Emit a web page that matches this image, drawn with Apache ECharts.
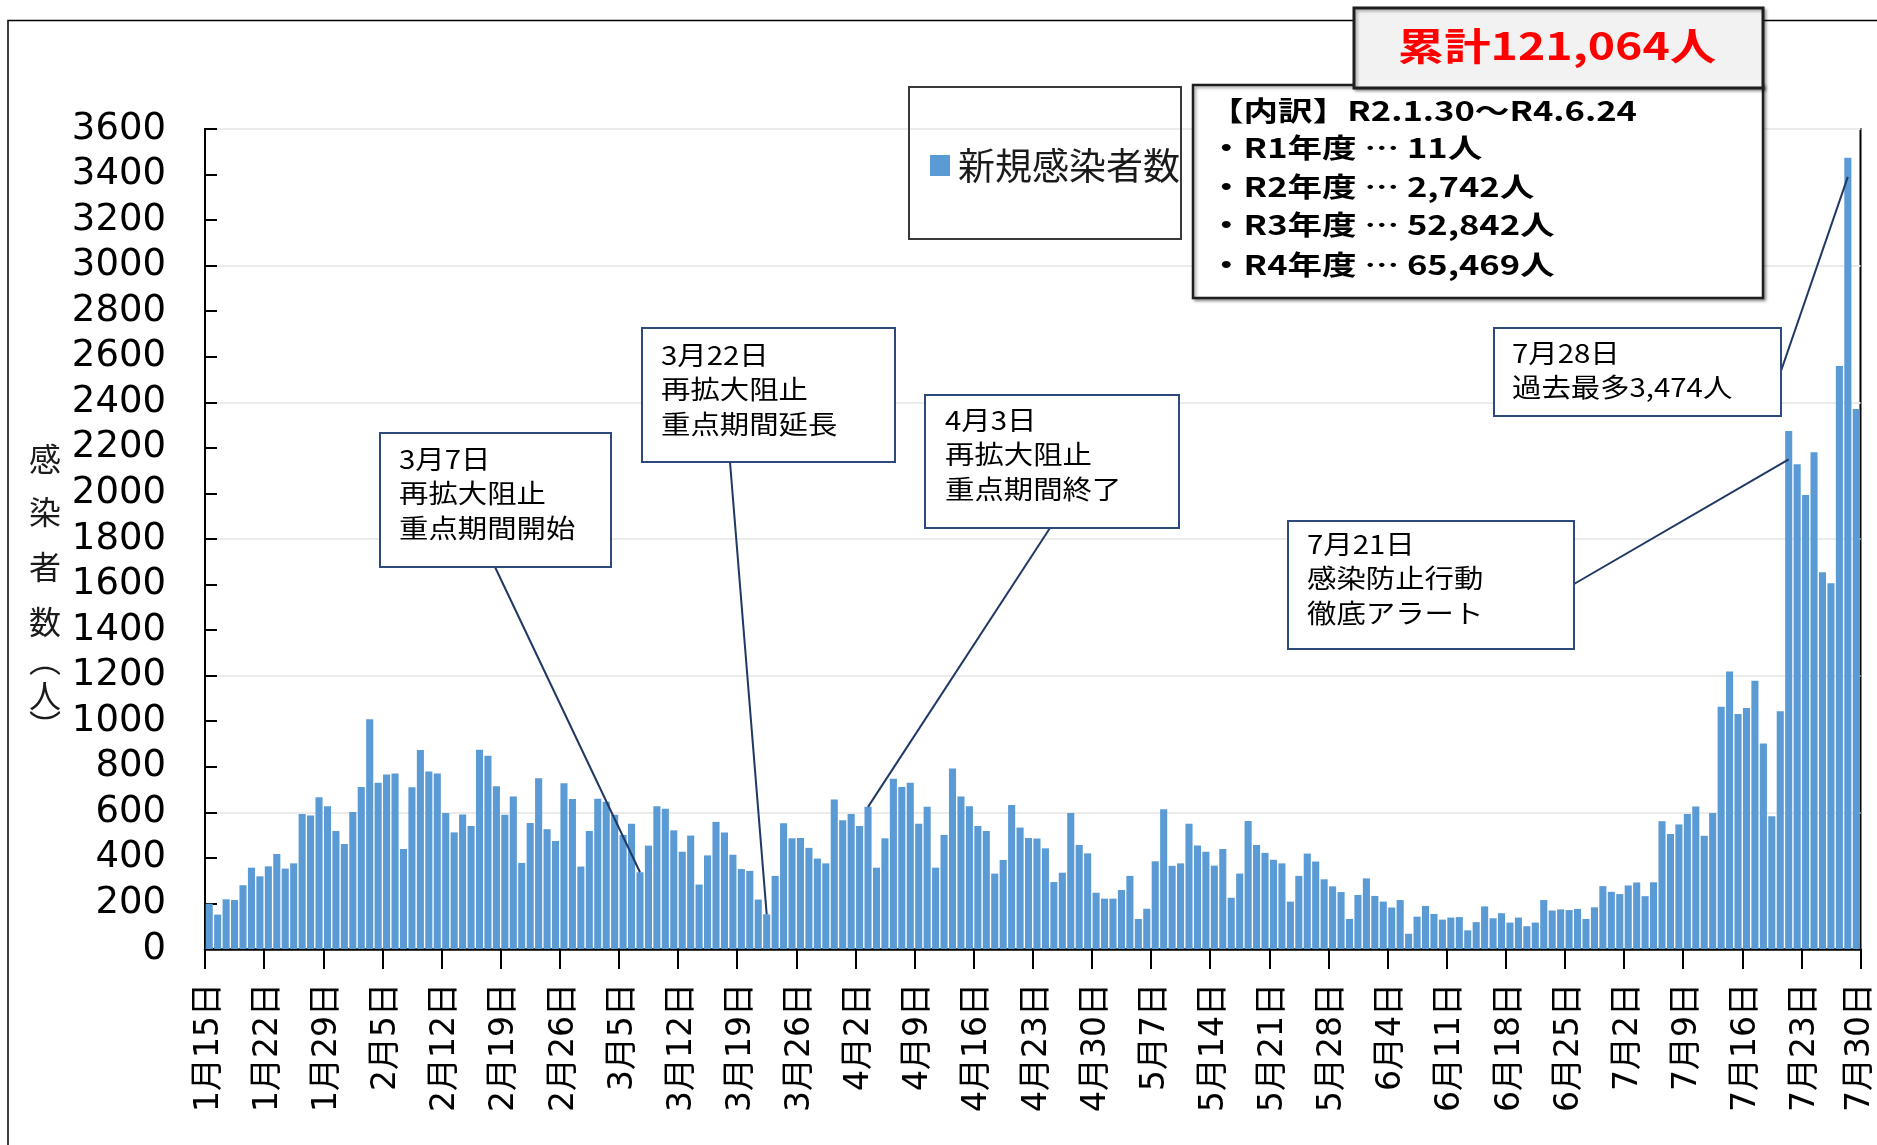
<!DOCTYPE html>
<html>
<head>
<meta charset="utf-8">
<title>新規感染者数</title>
<script src="https://cdn.jsdelivr.net/npm/echarts/dist/echarts.min.js"></script>
<style>
	html, body { margin: 0; padding: 0; background: #fff; }
	#main { width: 1877px; height: 1145px; }
</style>
</head>
<body>
<div id="main"></div>
<script>
	// 1月15日からの日別新規感染者数（週ごとに7件）
	const dailyCases = [
		199, 151, 218, 215, 280, 357, 319,        // 1/15-
		363, 417, 353, 376, 593, 586, 666,        // 1/22-
		627, 518, 461, 602, 711, 1009, 730,       // 1/29-
		766, 770, 439, 710, 874, 779, 770,        // 2/5-
		597, 512, 590, 540, 875, 848, 714,        // 2/12-
		589, 669, 378, 553, 750, 526, 474,        // 2/19-
		728, 659, 362, 518, 660, 646, 589,        // 2/26-
		501, 550, 337, 454, 627, 616, 521,        // 3/5-
		427, 498, 283, 411, 558, 511, 414,        // 3/12-
		351, 343, 217, 152, 321, 552, 486,        // 3/19-
		487, 444, 397, 376, 656, 565, 593,        // 3/26-
		540, 624, 357, 486, 747, 711, 730,        // 4/2-
		550, 625, 357, 501, 792, 670, 627,        // 4/9-
		540, 518, 331, 391, 632, 533, 487,        // 4/16-
		485, 442, 294, 335, 597, 457, 420,        // 4/23-
		247, 221, 221, 259, 321, 132, 177,        // 4/30-
		385, 613, 365, 376, 550, 454, 427,        // 5/7-
		366, 439, 225, 331, 562, 457, 422,        // 5/14-
		392, 376, 208, 321, 419, 384, 306,        // 5/21-
		275, 250, 132, 237, 310, 233, 208,        // 5/28-
		182, 215, 67, 142, 189, 154, 129,         // 6/4-
		138, 140, 82, 118, 187, 135, 157,         // 6/11-
		116, 138, 100, 116, 215, 169, 174,        // 6/18-
		171, 176, 132, 183, 276, 251, 241,        // 6/25-
		279, 292, 232, 293, 561, 505, 547,        // 7/2-
		593, 626, 497, 597, 1063, 1218, 1032,     // 7/9-
		1058, 1178, 902, 583, 1044, 2274, 2128,   // 7/16-
		1993, 2181, 1654, 1606, 2560, 3474, 2371  // 7/23-
	];

	// 日付ラベル（1月15日〜）
	const days = [];
	const start = new Date(2022, 0, 15);
	for (let i = 0; i <= dailyCases.length; i++) {
		const d = new Date(start.getTime());
		d.setDate(start.getDate() + i);
		days.push((d.getMonth() + 1) + '月' + d.getDate() + '日');
	}
	const barDays = days.slice(0, dailyCases.length);

	const totalText = '累計121,064人';
	const breakdown = [
		'【内訳】R2.1.30～R4.6.24',
		'・R1年度 … 11人',
		'・R2年度 … 2,742人',
		'・R3年度 … 52,842人',
		'・R4年度 … 65,469人'
	];
	const yName = ['感', '染', '者', '数', '︵', '人', '︶'];

	// 吹き出し（rect: x, y, w, h / anchor: 指す日・値）
	const notes = [
		{ lines: ['3月7日', '再拡大阻止', '重点期間開始'], rect: [380, 433, 231, 134], textAt: [399, 459], from: [495, 567], day: '3月7日', value: null },
		{ lines: ['3月22日', '再拡大阻止', '重点期間延長'], rect: [642, 328, 253, 134], textAt: [661, 355], from: [730, 462], day: '3月22日', value: null },
		{ lines: ['4月3日', '再拡大阻止', '重点期間終了'], rect: [925, 395, 254, 133], textAt: [945, 420], from: [1050, 528], day: '4月3日', value: null },
		{ lines: ['7月21日', '感染防止行動', '徹底アラート'], rect: [1288, 521, 286, 128], textAt: [1307, 544], from: [1574, 584], day: '7月21日', value: 2150 },
		{ lines: ['7月28日', '過去最多3,474人'], rect: [1494, 328, 287, 88], textAt: [1512, 353], from: [1781, 371], day: '7月28日', value: 3390 }
	];

	const cjk = '"Noto Sans CJK JP"';
	const chart = echarts.init(document.getElementById('main'));

	const option = {
		animation: false,
		backgroundColor: '#fff',
		grid: {
			left: 205, top: 129, right: 16, bottom: 196,
			show: true, borderColor: '#000', borderWidth: 2, backgroundColor: 'transparent'
		},
		legend: {
			show: true,
			data: ['新規感染者数'],
			orient: 'horizontal',
			left: 925,
			top: 142,
			icon: 'rect',
			itemWidth: 20,
			itemHeight: 21,
			textStyle: { fontSize: 37, fontFamily: cjk, color: '#1a1a1a', padding: [0, 0, 0, 3] }
		},
		xAxis: [{
			type: 'category',
			data: barDays,
			boundaryGap: true,
			axisLine: { lineStyle: { color: '#000', width: 2.5 } },
			axisTick: { show: true, interval: 6, length: 20, lineStyle: { color: '#000', width: 2 } },
			axisLabel: {
				interval: 6, rotate: 90, margin: 34, fontSize: 33,
				fontFamily: '"DejaVu Sans", ' + cjk, color: '#000'
			},
			splitLine: { show: false }
		}, {
			type: 'category',
			data: days,
			boundaryGap: false,
			position: 'bottom',
			axisLine: { show: false },
			axisTick: { show: false },
			axisLabel: {
				interval: function (i) { return i === days.length - 1; },
				rotate: 90, margin: 34, fontSize: 33,
				fontFamily: '"DejaVu Sans", ' + cjk, color: '#000'
			},
			splitLine: { show: false }
		}],
		yAxis: [{
			type: 'value',
			min: 0, max: 3600, interval: 200,
			axisLine: { show: true, lineStyle: { color: '#000', width: 2 } },
			axisTick: { show: true, inside: true, length: 12, lineStyle: { color: '#000', width: 2 } },
			axisLabel: {
				margin: 39, fontSize: 37, fontFamily: '"DejaVu Sans"', color: '#000',
				formatter: function (v) { return String(v); }
			},
			splitLine: { show: false }
		}, {
			type: 'value',
			position: 'left',
			min: 0, max: 3600, interval: 600,
			axisLine: { show: false },
			axisTick: { show: false },
			axisLabel: { show: false },
			splitLine: { show: true, lineStyle: { color: '#ebebeb', width: 2 } }
		}],
		series: [{
			name: '新規感染者数',
			type: 'bar',
			xAxisIndex: 0,
			yAxisIndex: 0,
			data: dailyCases,
			barCategoryGap: '16%',
			itemStyle: { color: '#5b9bd5' }
		}]
	};
	chart.setOption(option);

	// 枠・吹き出し・テキスト
	const g = [];
	g.push({ type: 'rect', z: 1, shape: { x: 8, y: 20.5, width: 2000, height: 2000 }, style: { fill: 'none', stroke: '#000', lineWidth: 1.5 } });

	// 凡例の枠
	g.push({ type: 'rect', z: 90, shape: { x: 909, y: 87, width: 272, height: 152 }, style: { fill: 'none', stroke: '#3a3a3a', lineWidth: 2 } });

	// 内訳
	g.push({
		type: 'rect', z: 100, shape: { x: 1193, y: 85, width: 570, height: 213 },
		style: { fill: '#fff', stroke: '#1e1e1e', lineWidth: 2.5, shadowColor: 'rgba(0,0,0,0.35)', shadowBlur: 3, shadowOffsetX: 2, shadowOffsetY: 2 }
	});
	const lineYs = [111, 148, 187, 225, 265];
	breakdown.forEach(function (t, i) {
		g.push({
			type: 'text', z: 102, x: 1209, y: lineYs[i], scaleX: 1.28,
			style: { text: t, font: 'bold 27px ' + cjk, fill: '#000', align: 'left', verticalAlign: 'middle', textAlign: 'left', textVerticalAlign: 'middle' }
		});
	});

	// 累計
	g.push({
		type: 'rect', z: 104, shape: { x: 1354, y: 8, width: 409, height: 80 },
		style: { fill: '#f2f2f2', stroke: '#1e1e1e', lineWidth: 3, shadowColor: 'rgba(0,0,0,0.3)', shadowBlur: 3, shadowOffsetX: 2, shadowOffsetY: 2 }
	});
	g.push({
		type: 'text', z: 105, x: 1557, y: 46, scaleX: 1.22,
		style: { text: totalText, font: 'bold 38px ' + cjk, fill: '#ff0000', align: 'center', verticalAlign: 'middle', textAlign: 'center', textVerticalAlign: 'middle' }
	});

	// 縦軸タイトル
	const yNameY = [459, 512, 567, 622, 660, 696, 726];
	yName.forEach(function (c, i) {
		g.push({
			type: 'text', z: 50, x: 45, y: yNameY[i],
			style: { text: c, font: '32px ' + cjk, fill: '#1a1a1a', align: 'center', verticalAlign: 'middle', textAlign: 'center', textVerticalAlign: 'middle' }
		});
	});

	// 吹き出し
	notes.forEach(function (n) {
		const idx = barDays.indexOf(n.day);
		const v = n.value === null ? dailyCases[idx] : n.value;
		const end = chart.convertToPixel({ xAxisIndex: 0, yAxisIndex: 0 }, [idx, v]);
		g.push({
			type: 'line', z: 95, shape: { x1: n.from[0], y1: n.from[1], x2: end[0], y2: end[1] },
			style: { stroke: '#1f3864', lineWidth: 2 }
		});
		g.push({
			type: 'rect', z: 96, shape: { x: n.rect[0], y: n.rect[1], width: n.rect[2], height: n.rect[3] },
			style: { fill: '#fff', stroke: '#2e4a7d', lineWidth: 2 }
		});
		n.lines.forEach(function (t, i) {
			g.push({
				type: 'text', z: 97, x: n.textAt[0], y: n.textAt[1] + i * 34.6, scaleX: 1.13,
				style: { text: t, font: '26px ' + cjk, fill: '#000', align: 'left', verticalAlign: 'middle', textAlign: 'left', textVerticalAlign: 'middle' }
			});
		});
	});

	chart.setOption({ graphic: { elements: g } });
</script>
</body>
</html>
